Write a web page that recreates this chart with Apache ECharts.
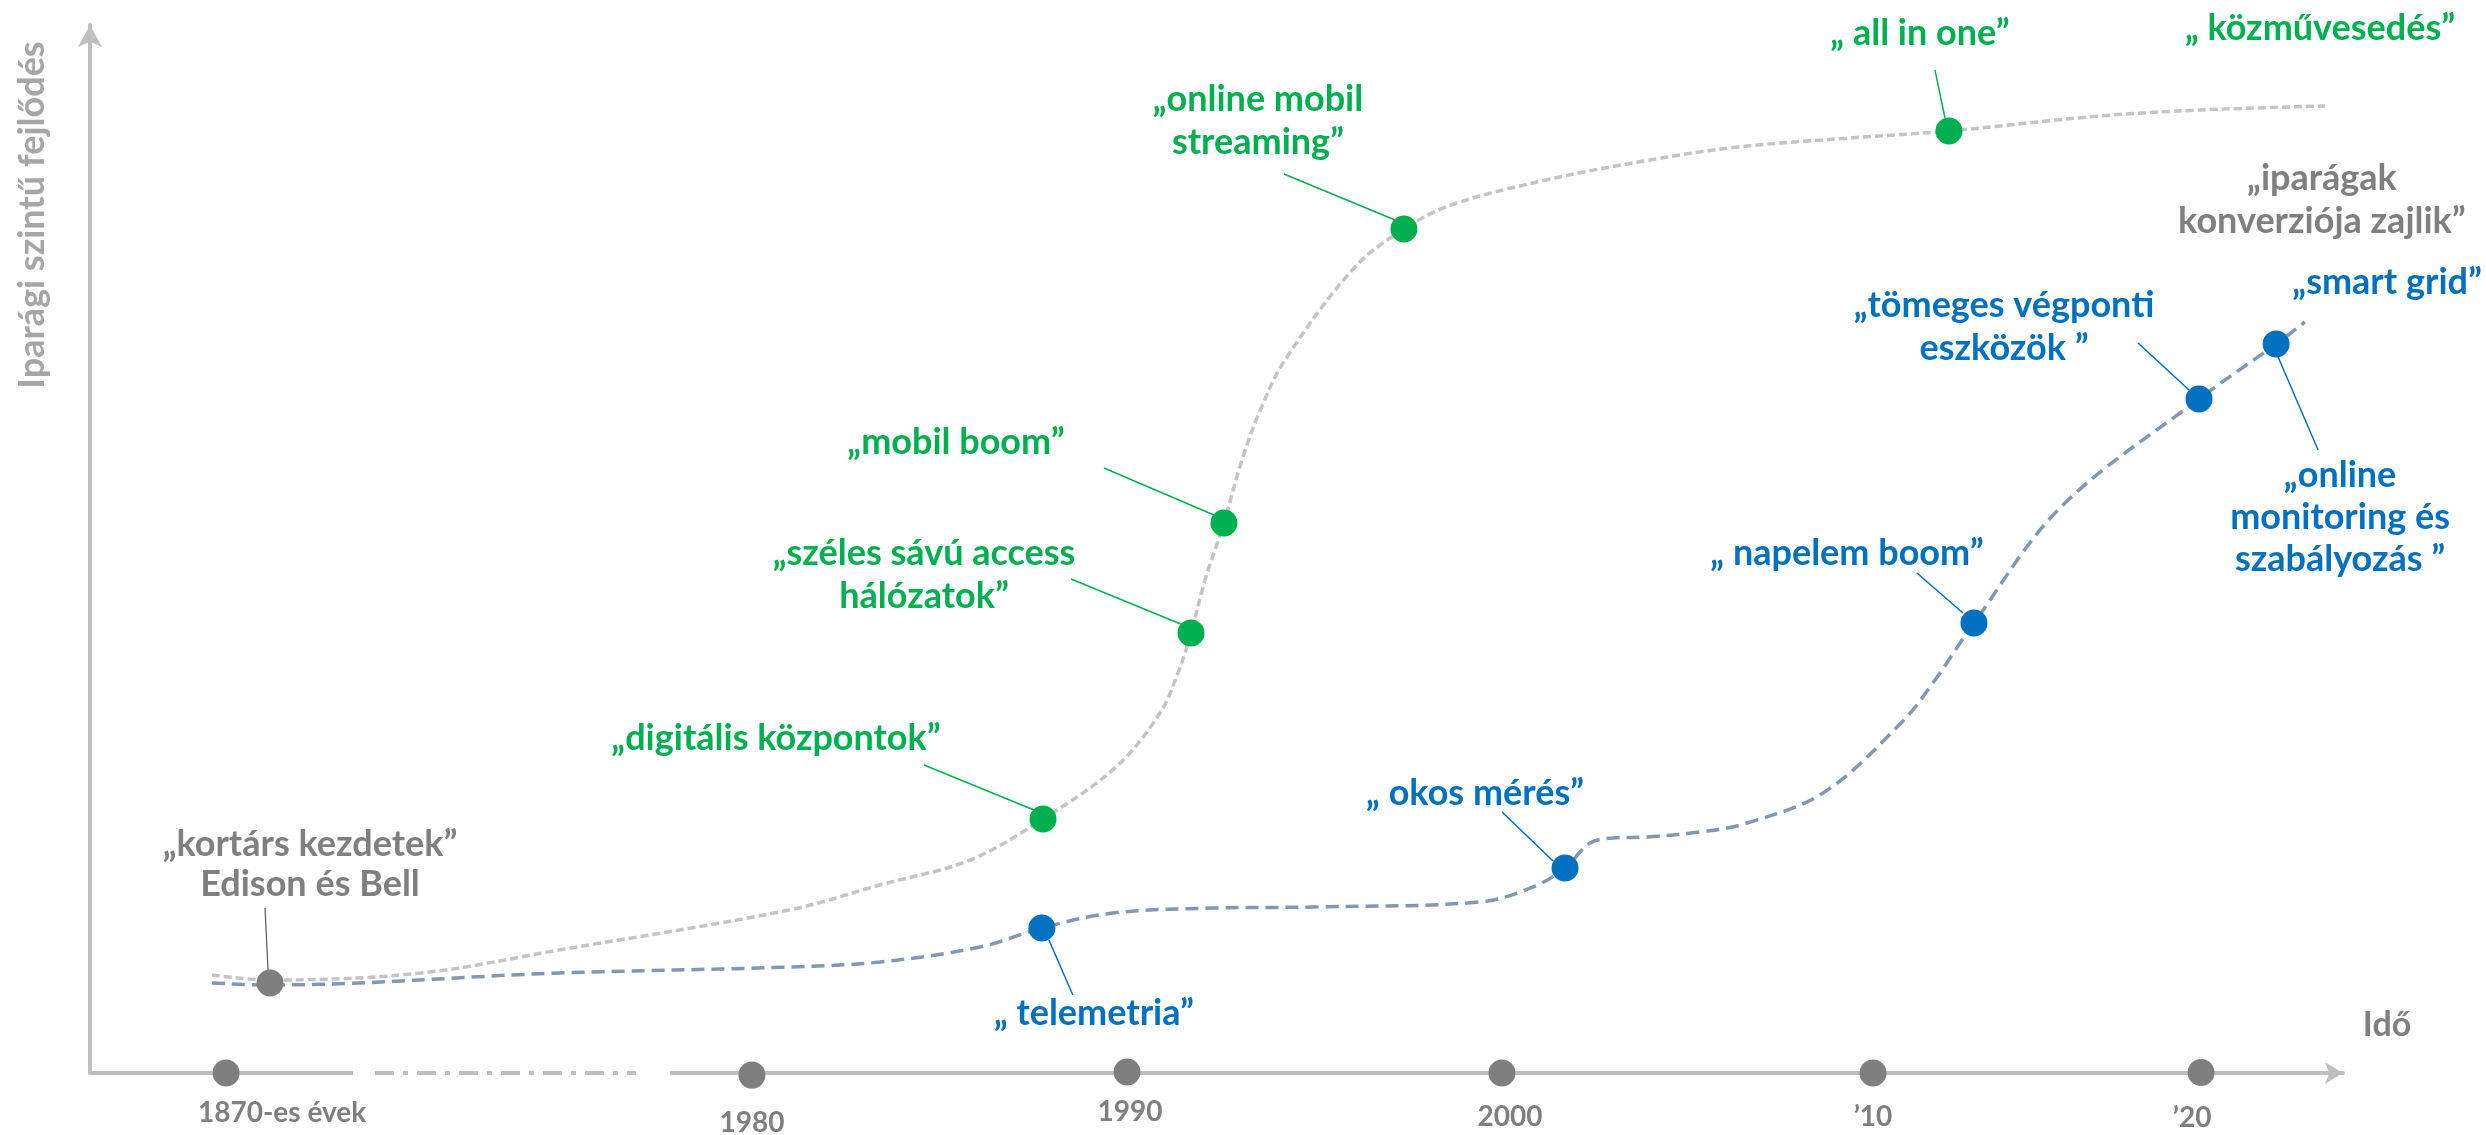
<!DOCTYPE html>
<html><head><meta charset="utf-8">
<script src="https://cdn.jsdelivr.net/npm/echarts@6/dist/echarts.min.js"></script>
<style>html,body{margin:0;padding:0;background:#fff}#c{width:2486px;height:1135px}</style>
</head><body><div id="c"></div>
<script>
// ---------- DATA ----------
const tickLabels = ['1870-es évek', '1980', '1990', '2000', '’10', '’20'];
const tickX = [6.04, 29.38, 46.03, 62.67, 79.14, 93.70];
const tickY = [0, -0.2, 0.1, 0, 0, 0.05];
const axisBreak = [11.67, 25.74];
const axisBreakDash = [12.65, 24.23];

const grayCurveX = [5.41, 7.99, 14.69, 20.82, 31.02, 35.06, 39.06, 42.30, 45.54, 47.49, 48.29, 48.87, 49.49, 50.33, 51.09, 51.89, 53.04, 56.15, 58.32, 60.41, 64.62, 69.24, 73.15, 78.12, 82.51, 89.21, 93.65, 99.20];
const grayCurveY = [9.35, 8.87, 9.54, 11.74, 15.55, 17.94, 20.32, 24.24, 29.20, 34.35, 38.17, 41.98, 47.04, 52.48, 58.21, 62.98, 68.03, 76.91, 80.53, 82.82, 85.21, 87.12, 88.36, 89.22, 89.89, 91.32, 91.89, 92.27];

const blueCurveX = [5.41, 7.99, 20.82, 31.02, 35.06, 39.50, 42.25, 45.41, 49.84, 54.28, 61.70, 64.05, 65.47, 66.58, 67.60, 69.11, 71.46, 73.41, 76.92, 80.47, 81.89, 83.62, 87.48, 93.61, 97.03, 98.31];
const blueCurveY = [8.59, 8.40, 9.54, 10.11, 10.59, 12.02, 13.84, 15.27, 15.74, 15.84, 16.32, 17.75, 19.56, 21.95, 22.42, 22.52, 23.00, 23.76, 26.72, 33.59, 37.50, 42.94, 54.01, 64.31, 69.56, 71.66];

const startLabel = '„kortárs kezdetek”\nEdison és Bell';
const startX = 7.99, startY = 8.59;

const greenLabels = ['„digitális központok”', '„széles sávú access\nhálózatok”', '„mobil boom”', '„online mobil\nstreaming”', '„ all in one”'];
const greenX = [42.30, 48.87, 50.33, 58.32, 82.51];
const greenY = [24.24, 41.98, 52.48, 80.53, 89.89];

const blueLabels = ['„ telemetria”', '„ okos mérés”', '„ napelem boom”', '„tömeges végponti\neszközök ”', '„smart grid”'];
const blueX = [42.25, 65.47, 83.62, 93.61, 97.03];
const blueY = [13.84, 19.56, 42.94, 64.31, 69.56];
const blueExtraLabel = '„online\nmonitoring és\nszabályozás ”';
const blueExtraIndex = 4;

const grayEndLabel = '„ közművesedés”';
const blueEndLabel = '„iparágak\nkonverziója zajlik”';
const xAxisTitle = 'Idő';
const yAxisTitle = 'Iparági szintű fejlődés';

// ---------- LAYOUT / STYLE ----------
const FONT = 'Lato';
const GREEN = '#00b050', BLUE = '#0070c0', GRAY = '#7f7f7f';
const L = {
  start: { off: [40, -119], lead: [[-5, -75], [-2, -13]] },
  green: [
    { off: [-267, -81], lead: [[-119, -54], [-9, -9]] },
    { off: [-267, -58], lead: [[-120, -54], [-8, -8]] },
    { off: [-268, -81], lead: [[-120, -55], [-10, -8]] },
    { off: [-146, -108], lead: [[-120, -55], [-9, -9]] },
    { off: [-29, -98], lead: [[-14, -61], [-4, -13]] }
  ],
  blue: [
    { off: [52, 85], lead: [[7, 12], [31, 67]] },
    { off: [-90, -75], lead: [[-63, -56], [-12, -7]] },
    { off: [-127, -70], lead: [[-57, -50], [-11, -10]] },
    { off: [-195, -72], lead: [[-61, -56], [-10, -9]] },
    { off: [111, -62], lead: null }
  ],
  blueExtra: { off: [64, 173], lead: [[42, 106], [2, 13]] },
  grayEnd: [-5, -78],
  blueEnd: [17, -122],
  tickOff: [[56, 40], [0, 48], [3, 40], [8, 44], [0, 44], [-9, 45]]
};

const zip = (xs, ys) => xs.map((x, i) => [x, ys[i]]);
const lbl = (color, off, extra) => Object.assign({
  show: true, position: 'inside', offset: off, color: color,
  fontFamily: FONT, fontWeight: 'bold', fontSize: 36, lineHeight: 43,
  align: 'center', verticalAlign: 'middle'
}, extra || {});

const chart = echarts.init(document.getElementById('c'), null, { renderer: 'canvas' });
const option = {
  backgroundColor: '#ffffff',
  animation: false,
  grid: { left: 90, right: 143, top: 25, bottom: 62 },
  xAxis: {
    type: 'value', min: 0, max: 100,
    axisLine: { show: true, lineStyle: { color: '#bfbfbf', width: 4 }, symbol: ['none', 'arrow'], symbolSize: [16, 18] },
    axisTick: { show: false }, axisLabel: { show: false }, splitLine: { show: false }
  },
  yAxis: {
    type: 'value', min: 0, max: 100,
    axisLine: { show: true, onZero: false, lineStyle: { color: '#bfbfbf', width: 4 }, symbol: ['none', 'arrow'], symbolSize: [18, 22] },
    axisTick: { show: false }, axisLabel: { show: false }, splitLine: { show: false }
  },
  graphic: [
    { type: 'text', x: 32, y: 215, rotation: Math.PI / 2,
      style: { text: yAxisTitle, fill: '#a6a6a6', font: 'bold 36px ' + FONT, textAlign: 'center', textVerticalAlign: 'middle' } },
    { type: 'text', x: 2387, y: 1025,
      style: { text: xAxisTitle, fill: GRAY, font: 'bold 34px ' + FONT, textAlign: 'center', textVerticalAlign: 'middle' } }
  ],
  series: [
    { // break cover on the time axis
      type: 'line', silent: true, symbol: 'none', z: 1,
      data: [[axisBreak[0], 0], [axisBreak[1], 0]],
      lineStyle: { color: '#ffffff', width: 10 }
    },
    {
      type: 'line', silent: true, symbol: 'none', z: 1,
      data: [[axisBreakDash[0], 0], [axisBreakDash[1], 0]],
      lineStyle: { color: '#bfbfbf', width: 4, type: [19, 9, 5, 9] }
    },
    {
      name: 'telco', type: 'line', smooth: 0.35, symbol: 'none',
      data: zip(grayCurveX, grayCurveY),
      lineStyle: { color: '#c4c4c4', width: 3.5, type: [8, 4] },
      markPoint: {
        symbol: 'circle', symbolSize: 1, itemStyle: { color: 'rgba(0,0,0,0)' },
        data: [{ coord: [grayCurveX[grayCurveX.length - 1], grayCurveY[grayCurveY.length - 1]],
          label: lbl(GREEN, L.grayEnd, { formatter: grayEndLabel }) }]
      }
    },
    {
      name: 'energy', type: 'line', smooth: 0.35, symbol: 'none',
      data: zip(blueCurveX, blueCurveY),
      lineStyle: { color: '#8497b0', width: 3.5, type: [13, 7] },
      markPoint: {
        symbol: 'circle', symbolSize: 1, itemStyle: { color: 'rgba(0,0,0,0)' },
        data: [{ coord: [blueCurveX[blueCurveX.length - 1], blueCurveY[blueCurveY.length - 1]],
          label: lbl(GRAY, L.blueEnd, { formatter: blueEndLabel }) }]
      }
    },
    {
      type: 'scatter', symbolSize: 27, clip: false, z: 4,
      itemStyle: { color: GRAY, opacity: 1 },
      data: tickX.map((x, i) => ({ value: [x, tickY[i]],
        label: lbl(GRAY, L.tickOff[i], { formatter: tickLabels[i], fontSize: 28, lineHeight: 32 }) }))
    },
    {
      type: 'scatter', symbolSize: 27, z: 4, itemStyle: { color: GRAY, opacity: 1 },
      data: [{ value: [startX, startY], label: lbl(GRAY, L.start.off, { formatter: startLabel, lineHeight: 40 }) }]
    },
    {
      type: 'scatter', symbolSize: 27, z: 4, itemStyle: { color: GREEN, opacity: 1 },
      data: greenX.map((x, i) => ({ value: [x, greenY[i]],
        label: lbl(GREEN, L.green[i].off, { formatter: greenLabels[i] }) }))
    },
    {
      type: 'scatter', symbolSize: 27, z: 4, itemStyle: { color: BLUE, opacity: 1 },
      data: blueX.map((x, i) => ({ value: [x, blueY[i]],
        label: lbl(BLUE, L.blue[i].off, { formatter: blueLabels[i] }) }))
    },
    {
      type: 'scatter', symbolSize: 1, z: 3, itemStyle: { color: 'rgba(0,0,0,0)', opacity: 1 },
      data: [{ value: [blueX[blueExtraIndex], blueY[blueExtraIndex]],
        label: lbl(BLUE, L.blueExtra.off, { formatter: blueExtraLabel, lineHeight: 42 }) }]
    }
  ]
};
chart.setOption(option);

// leader lines, anchored at the points via the chart's own coordinate conversion
const toPx = p => chart.convertToPixel({ gridIndex: 0 }, p);
const leaders = [];
function lead(pt, seg, color, w) {
  if (!seg) return;
  const c = toPx(pt);
  leaders.push({ type: 'line', z: 3,
    shape: { x1: c[0] + seg[0][0], y1: c[1] + seg[0][1], x2: c[0] + seg[1][0], y2: c[1] + seg[1][1] },
    style: { stroke: color, lineWidth: w } });
}
lead([startX, startY], L.start.lead, '#595959', 1.2);
greenX.forEach((x, i) => lead([x, greenY[i]], L.green[i].lead, GREEN, 1.5));
blueX.forEach((x, i) => lead([x, blueY[i]], L.blue[i].lead, BLUE, 1.5));
lead([blueX[blueExtraIndex], blueY[blueExtraIndex]], L.blueExtra.lead, BLUE, 1.5);
chart.setOption({ graphic: option.graphic.concat(leaders) });
</script>
</body></html>
